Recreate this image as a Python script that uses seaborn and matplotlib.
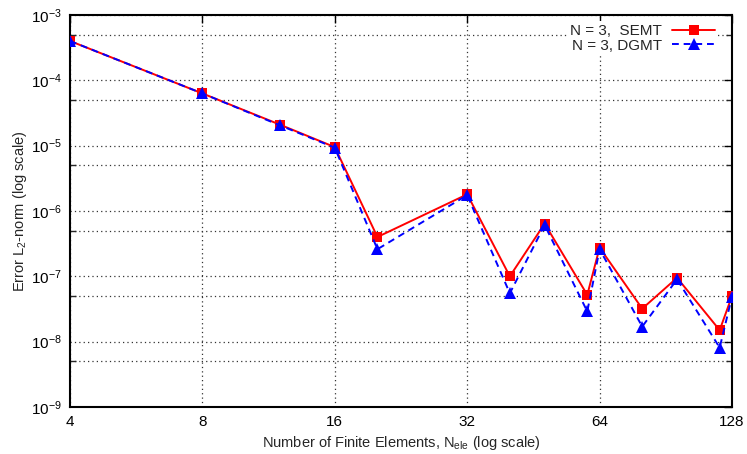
import numpy as np
import pandas as pd
import matplotlib
matplotlib.use("Agg")
import matplotlib.pyplot as plt
import seaborn as sns
from matplotlib.ticker import FixedLocator, FixedFormatter, LogFormatterMathtext, NullFormatter

n_elements = [4, 8, 12, 16, 20, 32, 40, 48, 60, 64, 80, 96, 120, 128]
semt_err = [4.0e-4, 6.3e-5, 2.1e-5, 9.5e-6, 4.0e-7, 1.8e-6, 1.0e-7, 6.4e-7,
            5.2e-8, 2.75e-7, 3.2e-8, 9.5e-8, 1.5e-8, 5.0e-8]
dgmt_err = [4.0e-4, 6.3e-5, 2.05e-5, 9.3e-6, 2.6e-7, 1.75e-6, 5.5e-8, 6.1e-7,
            2.9e-8, 2.6e-7, 1.7e-8, 9.0e-8, 8.1e-9, 4.9e-8]
x_ticks = [4, 8, 16, 32, 64, 128]
y_ticks = [1e-9, 1e-8, 1e-7, 1e-6, 1e-5, 1e-4, 1e-3]
y_minor_ticks = [5e-9, 5e-8, 5e-7, 5e-6, 5e-5, 5e-4]
series_labels = ["N = 3,  SEMT", "N = 3, DGMT"]

sns.set_style("white")
plt.rcParams["font.family"] = ["Liberation Sans", "DejaVu Sans"]
plt.rcParams["mathtext.fontset"] = "custom"
plt.rcParams["mathtext.rm"] = "Liberation Sans"
plt.rcParams["mathtext.it"] = "Liberation Sans"
plt.rcParams["mathtext.default"] = "regular"

fig = plt.figure(figsize=(7.47, 4.54), dpi=100)
ax = fig.add_axes([70 / 747, 1 - 407 / 454, (732 - 70) / 747, (407 - 15) / 454])

df = pd.DataFrame({"N": n_elements, "SEMT": semt_err, "DGMT": dgmt_err})

sns.lineplot(data=df, x="N", y="SEMT", ax=ax, color="#ff0000", lw=1.4,
             marker="s", markersize=7.5, markeredgewidth=0, label=series_labels[0], zorder=3)
sns.lineplot(data=df, x="N", y="DGMT", ax=ax, color="#0000ff", lw=1.4,
             linestyle=(0, (3.5, 2.5)), marker="^", markersize=8.5, markeredgewidth=0,
             label=series_labels[1], zorder=4)

ax.set_xscale("log", base=2)
ax.set_yscale("log")
ax.set_xlim(4, 128)
ax.set_ylim(1e-9, 1e-3)

ax.xaxis.set_major_locator(FixedLocator(x_ticks))
ax.xaxis.set_major_formatter(FixedFormatter([str(t) for t in x_ticks]))
ax.xaxis.set_minor_locator(FixedLocator([]))
ax.yaxis.set_major_locator(FixedLocator(y_ticks))
ax.yaxis.set_major_formatter(LogFormatterMathtext())
ax.yaxis.set_minor_locator(FixedLocator(y_minor_ticks))
ax.yaxis.set_minor_formatter(NullFormatter())
ax.xaxis.get_offset_text().set_visible(False)
ax.yaxis.get_offset_text().set_visible(False)

ax.grid(True, which="major", color="#333333", linestyle=(0, (1, 2.5)), linewidth=0.9)
ax.grid(True, which="minor", axis="y", color="#333333", linestyle=(0, (1, 2.5)), linewidth=0.9)

ax.tick_params(axis="both", which="major", direction="in", length=6, width=1,
               top=True, right=True, labelsize=11, colors="black", pad=6)
ax.tick_params(axis="y", which="minor", direction="in", length=4, width=1,
               left=True, right=True)
for s in ax.spines.values():
    s.set_visible(True)
    s.set_color("black")
    s.set_linewidth(1.5)

ax.set_xlabel("Number of Finite Elements, N$_{ele}$ (log scale)", fontsize=10.5, labelpad=3)
ax.set_ylabel("Error L$_2$-norm (log scale)", fontsize=10.5, labelpad=1)

leg = ax.legend(loc="upper right", bbox_to_anchor=(0.979, 0.985), frameon=True,
                markerfirst=False, fontsize=11, handlelength=2.8, handletextpad=0.65,
                labelspacing=0.05, borderaxespad=0.0, borderpad=0.2)
leg.get_frame().set_facecolor("white")
leg.get_frame().set_edgecolor("none")
leg.get_frame().set_alpha(1.0)
leg.set_zorder(5)

fig.savefig("out.png", dpi=100)
